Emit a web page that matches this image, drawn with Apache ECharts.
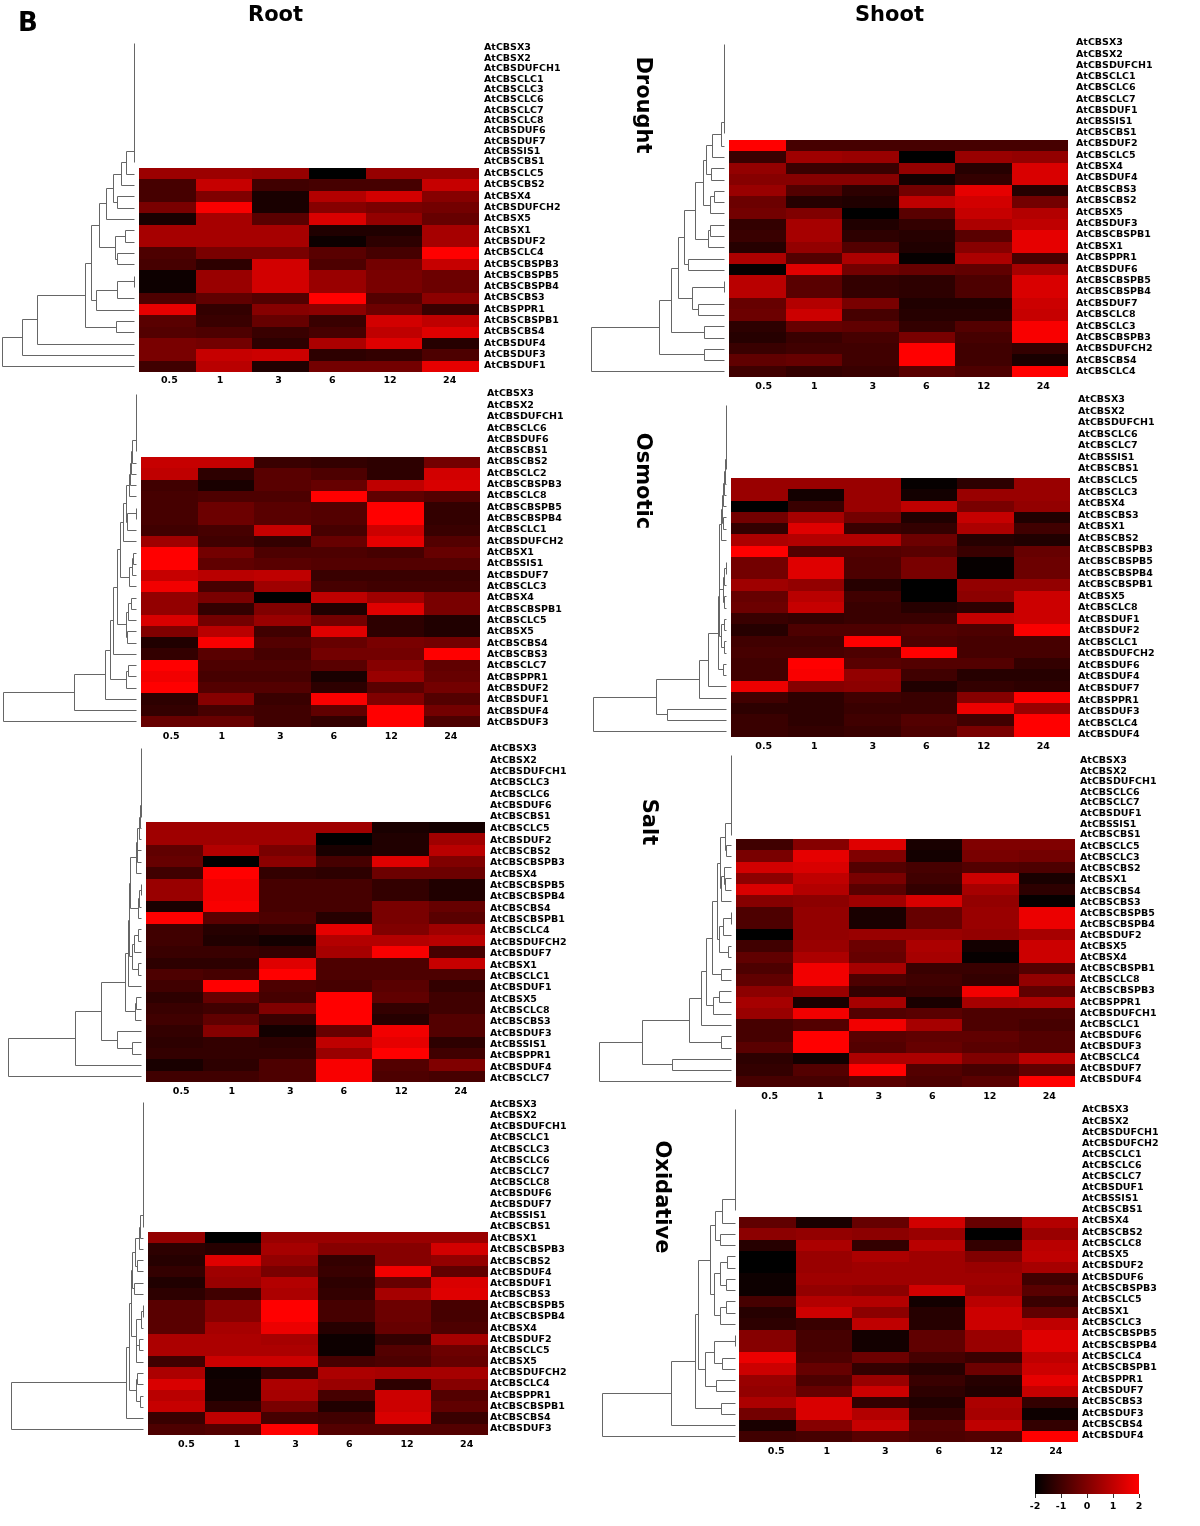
<!DOCTYPE html>
<html>
<head>
<meta charset="utf-8">
<title>AtCBS heatmaps</title>
<script src="https://cdn.jsdelivr.net/npm/echarts@6/dist/echarts.min.js"></script>
<style>
  html, body { margin: 0; padding: 0; background: #fff; }
  #chart { width: 1200px; height: 1526px; }
</style>
</head>
<body>
<div id="chart"></div>
<script>
const timepoints = ['0.5', '1', '3', '6', '12', '24']
const colorTicks = [-2, -1, 0, 1, 2]

// genes of each panel, top to bottom. the first ones have no expression row
const rootDroughtGenes = ['AtCBSX3', 'AtCBSX2', 'AtCBSDUFCH1', 'AtCBSCLC1', 'AtCBSCLC3', 'AtCBSCLC6', 'AtCBSCLC7', 'AtCBSCLC8', 'AtCBSDUF6', 'AtCBSDUF7', 'AtCBSSIS1', 'AtCBSCBS1', 'AtCBSCLC5', 'AtCBSCBS2', 'AtCBSX4', 'AtCBSDUFCH2', 'AtCBSX5', 'AtCBSX1', 'AtCBSDUF2', 'AtCBSCLC4', 'AtCBSCBSPB3', 'AtCBSCBSPB5', 'AtCBSCBSPB4', 'AtCBSCBS3', 'AtCBSPPR1', 'AtCBSCBSPB1', 'AtCBSCBS4', 'AtCBSDUF4', 'AtCBSDUF3', 'AtCBSDUF1']
const shootDroughtGenes = ['AtCBSX3', 'AtCBSX2', 'AtCBSDUFCH1', 'AtCBSCLC1', 'AtCBSCLC6', 'AtCBSCLC7', 'AtCBSDUF1', 'AtCBSSIS1', 'AtCBSCBS1', 'AtCBSDUF2', 'AtCBSCLC5', 'AtCBSX4', 'AtCBSDUF4', 'AtCBSCBS3', 'AtCBSCBS2', 'AtCBSX5', 'AtCBSDUF3', 'AtCBSCBSPB1', 'AtCBSX1', 'AtCBSPPR1', 'AtCBSDUF6', 'AtCBSCBSPB5', 'AtCBSCBSPB4', 'AtCBSDUF7', 'AtCBSCLC8', 'AtCBSCLC3', 'AtCBSCBSPB3', 'AtCBSDUFCH2', 'AtCBSCBS4', 'AtCBSCLC4']
const rootOsmoticGenes = ['AtCBSX3', 'AtCBSX2', 'AtCBSDUFCH1', 'AtCBSCLC6', 'AtCBSDUF6', 'AtCBSCBS1', 'AtCBSCBS2', 'AtCBSCLC2', 'AtCBSCBSPB3', 'AtCBSCLC8', 'AtCBSCBSPB5', 'AtCBSCBSPB4', 'AtCBSCLC1', 'AtCBSDUFCH2', 'AtCBSX1', 'AtCBSSIS1', 'AtCBSDUF7', 'AtCBSCLC3', 'AtCBSX4', 'AtCBSCBSPB1', 'AtCBSCLC5', 'AtCBSX5', 'AtCBSCBS4', 'AtCBSCBS3', 'AtCBSCLC7', 'AtCBSPPR1', 'AtCBSDUF2', 'AtCBSDUF1', 'AtCBSDUF4', 'AtCBSDUF3']
const shootOsmoticGenes = ['AtCBSX3', 'AtCBSX2', 'AtCBSDUFCH1', 'AtCBSCLC6', 'AtCBSCLC7', 'AtCBSSIS1', 'AtCBSCBS1', 'AtCBSCLC5', 'AtCBSCLC3', 'AtCBSX4', 'AtCBSCBS3', 'AtCBSX1', 'AtCBSCBS2', 'AtCBSCBSPB3', 'AtCBSCBSPB5', 'AtCBSCBSPB4', 'AtCBSCBSPB1', 'AtCBSX5', 'AtCBSCLC8', 'AtCBSDUF1', 'AtCBSDUF2', 'AtCBSCLC1', 'AtCBSDUFCH2', 'AtCBSDUF6', 'AtCBSDUF4', 'AtCBSDUF7', 'AtCBSPPR1', 'AtCBSDUF3', 'AtCBSCLC4', 'AtCBSDUF4']
const rootSaltGenes = ['AtCBSX3', 'AtCBSX2', 'AtCBSDUFCH1', 'AtCBSCLC3', 'AtCBSCLC6', 'AtCBSDUF6', 'AtCBSCBS1', 'AtCBSCLC5', 'AtCBSDUF2', 'AtCBSCBS2', 'AtCBSCBSPB3', 'AtCBSX4', 'AtCBSCBSPB5', 'AtCBSCBSPB4', 'AtCBSCBS4', 'AtCBSCBSPB1', 'AtCBSCLC4', 'AtCBSDUFCH2', 'AtCBSDUF7', 'AtCBSX1', 'AtCBSCLC1', 'AtCBSDUF1', 'AtCBSX5', 'AtCBSCLC8', 'AtCBSCBS3', 'AtCBSDUF3', 'AtCBSSIS1', 'AtCBSPPR1', 'AtCBSDUF4', 'AtCBSCLC7']
const shootSaltGenes = ['AtCBSX3', 'AtCBSX2', 'AtCBSDUFCH1', 'AtCBSCLC6', 'AtCBSCLC7', 'AtCBSDUF1', 'AtCBSSIS1', 'AtCBSCBS1', 'AtCBSCLC5', 'AtCBSCLC3', 'AtCBSCBS2', 'AtCBSX1', 'AtCBSCBS4', 'AtCBSCBS3', 'AtCBSCBSPB5', 'AtCBSCBSPB4', 'AtCBSDUF2', 'AtCBSX5', 'AtCBSX4', 'AtCBSCBSPB1', 'AtCBSCLC8', 'AtCBSCBSPB3', 'AtCBSPPR1', 'AtCBSDUFCH1', 'AtCBSCLC1', 'AtCBSDUF6', 'AtCBSDUF3', 'AtCBSCLC4', 'AtCBSDUF7', 'AtCBSDUF4']
const rootOxidativeGenes = ['AtCBSX3', 'AtCBSX2', 'AtCBSDUFCH1', 'AtCBSCLC1', 'AtCBSCLC3', 'AtCBSCLC6', 'AtCBSCLC7', 'AtCBSCLC8', 'AtCBSDUF6', 'AtCBSDUF7', 'AtCBSSIS1', 'AtCBSCBS1', 'AtCBSX1', 'AtCBSCBSPB3', 'AtCBSCBS2', 'AtCBSDUF4', 'AtCBSDUF1', 'AtCBSCBS3', 'AtCBSCBSPB5', 'AtCBSCBSPB4', 'AtCBSX4', 'AtCBSDUF2', 'AtCBSCLC5', 'AtCBSX5', 'AtCBSDUFCH2', 'AtCBSCLC4', 'AtCBSPPR1', 'AtCBSCBSPB1', 'AtCBSCBS4', 'AtCBSDUF3']
const shootOxidativeGenes = ['AtCBSX3', 'AtCBSX2', 'AtCBSDUFCH1', 'AtCBSDUFCH2', 'AtCBSCLC1', 'AtCBSCLC6', 'AtCBSCLC7', 'AtCBSDUF1', 'AtCBSSIS1', 'AtCBSCBS1', 'AtCBSX4', 'AtCBSCBS2', 'AtCBSCLC8', 'AtCBSX5', 'AtCBSDUF2', 'AtCBSDUF6', 'AtCBSCBSPB3', 'AtCBSCLC5', 'AtCBSX1', 'AtCBSCLC3', 'AtCBSCBSPB5', 'AtCBSCBSPB4', 'AtCBSCLC4', 'AtCBSCBSPB1', 'AtCBSPPR1', 'AtCBSDUF7', 'AtCBSCBS3', 'AtCBSDUF3', 'AtCBSCBS4', 'AtCBSDUF4']

// log2 values of the expression rows
const rootDroughtValues = [
  [0.45, 0.45, 0.35, -2, 0.35, 0.35],
  [-0.9, 1.1, -1, -0.9, -0.9, 1.1],
  [-0.9, 0, -1.6, 0.8, 1.3, 0.1],
  [-0.1, 1.9, -1.6, 0.1, -0.1, -0.2],
  [-1.6, 0.6, -0.6, 1.4, 0.3, -0.4],
  [0.6, 0.6, 0.6, -1.5, -1.5, 0.6],
  [0.6, 0.6, 0.6, -1.8, -1.3, 0.6],
  [-0.8, -0.1, -0.1, -0.6, -0.9, 2],
  [-0.9, -1.3, 1.3, -0.8, -0.2, 1.1],
  [-1.8, 0.4, 1.3, 0.4, -0.1, -0.3],
  [-1.8, 0.4, 1.3, 0.4, -0.1, -0.3],
  [-0.8, -0.5, -0.7, 2, -0.7, 0.2],
  [1.6, -1.2, 0.1, 0.2, -0.3, -1.1],
  [-0.6, -1.1, -0.4, -1.1, 1.3, 1],
  [-0.7, -0.8, -1.1, -0.9, 1, 1.5],
  [-0.1, -0.2, -1.3, 0.7, 1.5, -1.4],
  [-0.1, 1.1, 1.2, -1.3, -1.2, -0.8],
  [-1, 0.9, -1.5, -0.2, -0.2, 1.6]
]
const shootDroughtValues = [
  [2, -0.9, -0.9, -0.9, -0.9, -0.9],
  [-1.1, 0.5, 0.4, -2, 0.4, 0.3],
  [0.3, -1.1, -1.1, 0.3, -1.4, 1.4],
  [0.1, 0.1, 0.1, -1.7, -1.2, 1.4],
  [0.4, -0.7, -1.3, -0.2, 1.6, -1.4],
  [-0.3, -1.4, -1.5, 1, 1.3, -0.2],
  [-0.2, 0, -2, -0.6, 1.1, 0.8],
  [-1.2, 0.6, -1.5, -1.2, 0.7, 1],
  [-1.1, 0.6, -1.3, -1.4, -0.6, 1.6],
  [-1.4, 0.3, -0.7, -1.5, 0.1, 1.6],
  [0.7, -0.7, 0.7, -1.9, 0.7, -0.9],
  [-1.9, 1.5, -0.2, -0.4, -0.5, 0.6],
  [0.9, -0.6, -1.2, -1.3, -0.8, 1.4],
  [0.9, -0.6, -1.2, -1.3, -0.8, 1.4],
  [-0.4, 0.8, -0.1, -1.5, -1.5, 1.2],
  [-0.3, 1.2, -0.9, -1.4, -1.4, 1.1],
  [-1.3, -0.4, -0.5, -1.2, -0.7, 1.9],
  [-1.4, -1.1, -0.9, -0.1, -0.9, 1.9],
  [-1.1, -1, -1, 2, -1, -1.2],
  [-0.5, -0.4, -1, 2, -1, -1.6],
  [-1, -1.2, -1.1, -0.6, -0.8, 2]
]
const rootOsmoticValues = [
  [1.1, 1.1, -1.1, -1.2, -1.3, -0.2],
  [1, -1.3, -0.6, -0.8, -1.3, 1.3],
  [-1, -1.6, -0.6, -0.4, 1, 1.4],
  [-0.9, -0.8, -0.8, 2, -0.5, -0.7],
  [-0.9, -0.3, -0.6, -0.7, 2, -1.2],
  [-0.9, -0.3, -0.6, -0.7, 2, -1.2],
  [-1, -0.9, 1.1, -0.9, 1.2, -1.1],
  [0.5, -1, -1.2, -0.4, 1.6, -0.7],
  [2, -0.2, -0.8, -0.8, -0.9, -0.4],
  [2, -0.5, -0.6, -0.7, -0.7, -0.7],
  [1.1, 0.9, 1, -1.1, -1.1, -1.1],
  [1.8, -0.9, 0.5, -0.9, -1, -1],
  [0.3, -0.1, -2, 1, 0.5, -0.1],
  [0.3, -1.2, 0, -1.5, 1.5, -0.1],
  [1.4, -0.2, 0.4, -0.2, -1.3, -1.5],
  [0, 0.9, -1, 1.5, -1.3, -1.5],
  [-1.5, 1.9, -0.7, -0.4, -0.1, -0.2],
  [-1.2, -0.6, -0.9, -0.2, -0.2, 2],
  [2, -0.8, -0.8, -0.6, 0.1, -0.5],
  [1.8, -0.9, -0.9, -1.6, 0.4, -0.4],
  [2, -0.7, -0.7, -1.3, -0.6, -0.2],
  [-1.3, 0.1, -1.1, 1.9, 0, -0.7],
  [-1.2, -0.9, -1, -0.5, 2, -0.2],
  [-0.4, -0.4, -1, -1.2, 2, -0.8]
]
const shootOsmoticValues = [
  [0.4, 0.4, 0.4, -1.9, -1.3, 0.4],
  [0.4, -1.7, 0.4, -1.7, 0.4, 0.4],
  [-2, -1.1, 0.4, 1, -0.1, 0.3],
  [-0.2, 0.6, -0.2, -1.5, 1.1, -1.5],
  [-1.2, 1.5, -1.1, -1.2, 0.7, -1],
  [0.7, 0.8, 0.8, -0.3, -1.4, -1.5],
  [2, -0.7, -0.7, -0.6, -1.1, -0.4],
  [-0.2, 1.5, -0.8, -0.1, -1.9, -0.3],
  [-0.2, 1.5, -0.8, -0.1, -1.9, -0.3],
  [0.5, 0.3, -1.4, -2, 0.3, 0.3],
  [-0.4, 0.9, -1, -2, 0.2, 1.2],
  [-0.3, 1.1, -1.1, -1.4, -1.3, 1.2],
  [-1.1, -1.2, -1.1, -1.1, 1.1, 1.2],
  [-1.4, -0.8, -0.8, -0.7, -0.8, 1.9],
  [-1, -1, 2, -0.8, -0.9, -0.9],
  [-0.9, -0.9, -0.8, 2, -0.9, -0.9],
  [-1, 2, -0.6, -0.7, -0.7, -1.2],
  [-1, 1.9, 0.3, -1, -1.4, -1.4],
  [1.7, 0.1, 0.2, -1.5, -1.2, -1.3],
  [-1, -1.3, -1, -1.1, 0.1, 2],
  [-1.3, -1.3, -1.1, -1.1, 1.7, 0.4],
  [-1.1, -1.3, -1, -0.7, -1, 2],
  [-1.1, -1.2, -1.1, -0.8, -0.1, 2]
]
const rootSaltValues = [
  [0.5, 0.5, 0.5, 0.5, -1.6, -1.7],
  [0.5, 0.5, 0.5, -2, -1.5, 0.5],
  [-0.5, 0.8, -0.1, -1.6, -1.5, 0.9],
  [-0.4, -2, 0.2, -0.9, 1.5, 0],
  [-1, 2, -1.2, -1.3, -0.3, -0.3],
  [0.4, 1.8, -0.9, -0.9, -1.2, -1.5],
  [0.4, 1.8, -0.9, -0.9, -1.2, -1.5],
  [-1.6, 1.9, -0.9, -0.9, -0.1, -0.4],
  [2, -0.6, -0.8, -1.4, -0.1, -0.6],
  [-1, -1.4, -1.2, 1.6, 0, 0.5],
  [-1, -1.5, -1.7, 0.8, 0.8, 0.9],
  [-1.1, -1.1, -1.2, 0.6, 1.9, -0.9],
  [-1.3, -1.3, 1.5, -0.8, -0.8, 1.1],
  [-0.8, -0.9, 2, -0.8, -0.8, -0.8],
  [-1, 2, -0.8, -0.9, -0.6, -1.2],
  [-1.3, -0.4, -0.9, 2, -0.5, -1],
  [-1.1, -1, 0, 2, -1.2, -1],
  [-1, -0.5, -1.1, 2, -1.4, -0.7],
  [-1.2, 0.1, -1.7, -0.4, 1.8, -0.7],
  [-1.3, -1.2, -1.3, 1, 1.6, -1.3],
  [-1.2, -1.2, -1.2, 0.4, 2, -1],
  [-1.6, -1.3, -0.8, 1.9, -0.7, 0],
  [-1, -1, -0.8, 1.9, -0.8, -0.9]
]
const shootSaltValues = [
  [-1, 0.1, 1.5, -1.6, 0, 0],
  [-0.1, 1.6, 0, -1.7, -0.1, -0.2],
  [1.3, 1.4, -0.7, -0.9, -0.7, -0.8],
  [0.2, 1, -0.1, -1, 1.2, -1.6],
  [1.4, 0.8, -0.6, -1.2, 0.6, -1.3],
  [0.1, 0.2, 0.5, 1.4, 0.3, -1.9],
  [-0.8, 0.3, -1.6, -0.4, 0.4, 1.7],
  [-0.8, 0.3, -1.6, -0.4, 0.4, 1.7],
  [-2, 0.3, 0.4, 0.4, 0.3, 0.6],
  [-1, 0.4, -0.3, 0.7, -1.7, 1.2],
  [-0.5, 0.7, -0.4, 0.6, -1.9, 1.2],
  [-0.8, 1.8, 0.6, -1.1, -1.1, -0.7],
  [-0.5, 1.8, -0.8, -1, -1.2, 0.3],
  [0.2, 0.4, -1.2, -1.1, 1.8, -0.5],
  [0.6, -1.6, 0.6, -1.6, 0.6, 0.7],
  [0.4, 1.8, -0.7, -0.6, -0.8, -0.8],
  [-0.9, -0.7, 1.8, 0.6, -0.8, -0.9],
  [-0.9, 2, -0.6, -0.5, -0.5, -0.7],
  [-0.6, 2, -0.7, -0.4, -0.6, -0.7],
  [-1.3, -1.7, 0.7, 0.7, 0, 0.9],
  [-1.2, -0.7, 2, -0.7, -0.9, -0.5],
  [-0.9, -0.9, -0.6, -0.8, -0.6, 2]
]
const rootOxidativeValues = [
  [0.3, -2, 0.4, 0.4, 0.4, 0.4],
  [-1.3, -1.4, 0.6, 0.1, 0.1, 1.3],
  [-1.4, 1.5, 0.3, -1.2, 0.1, 0.3],
  [-1.2, 0.5, -0.1, -1.1, 1.8, -0.5],
  [-1.5, 0.4, 0.8, -1.3, -0.4, 1.4],
  [-1.3, -1, 0.7, -1.2, 0.6, 1.5],
  [-0.6, 0.1, 2, -0.9, -0.3, -0.9],
  [-0.6, 0.1, 2, -0.9, -0.3, -0.9],
  [-0.6, 0.6, 1.7, -1.4, -0.4, -0.8],
  [0.7, 0.7, 0.6, -1.8, -1.2, 0.6],
  [0.7, 0.7, 0.7, -1.8, -0.7, -0.3],
  [-1, 1.2, 1.2, -0.9, -0.8, -0.4],
  [0.7, -1.8, -1.2, 0.7, 0.6, 0.6],
  [1.4, -1.7, 0.7, 0.4, -1.3, 0.1],
  [0.9, -1.7, 0.6, -0.9, 1.2, -0.7],
  [1.1, -1.3, -0.1, -1.5, 1.2, -0.5],
  [-1.1, 1, -0.9, -1, 1.4, -1.1],
  [-0.8, -0.7, 2, -0.7, -0.7, -0.7]
]
const shootOxidativeValues = [
  [-0.5, -1.6, -0.4, 1.3, -0.4, 0.8],
  [0.2, 0.3, 0.2, 0.4, -2, 0.4],
  [-1.4, 0.7, -1.2, 0.9, -1.2, 0.9],
  [-2, 0.4, 0.7, 0.5, 0, 1],
  [-2, 0.4, 0.5, 0.5, 0.4, 0.6],
  [-1.8, 0.5, 0.5, 0.5, 0.5, -1],
  [-1.8, 0.3, 0.2, 1.3, 0.4, -0.6],
  [-0.9, 0.8, 0.8, -1.7, 0.9, -1.1],
  [-1.4, 1.2, 0.2, -1.4, 1.2, -0.5],
  [-1.3, -1.1, 1, -1.4, 1.2, 1],
  [0.1, -0.9, -1.7, -0.5, 0.4, 1.5],
  [0.1, -0.9, -1.7, -0.5, 0.4, 1.5],
  [1.7, -0.8, -0.3, -0.9, -1.1, 1],
  [1.2, -0.4, -1.2, -1.4, -0.3, 1.2],
  [0.4, -0.8, 0.4, -1.1, -1.4, 1.6],
  [0.3, -0.4, 1.2, -1.3, -1.5, 1.1],
  [0.7, 1.4, -1.2, -1.5, 0.7, -1.2],
  [-0.2, 1.4, 0.8, -1.2, 0.6, -1.8],
  [-1.6, 0.1, 1.1, -0.7, 1, -1.2],
  [-1, -0.9, -0.6, -0.8, -0.7, 2]
]

// the rows without data all hang together at distance 0
const flatRows = (n) => {
  let node = 0
  for (let i = 1; i < n; i++) node = [0, node, i]
  return node
}

// clusters: [distance, child, child], a number is a row of the gene list
const rootDroughtTree = [358, [305, [263, [134, [116, [96, [77, [56, [34, [23, flatRows(12), 12], 13], [47, 14, 15]], 16], [52, [25, 17, 18], [47, 19, 20]]], [102, [47, [1, 21, 22], 23], 24]], [50, 25, 26]], 27], 28], 29]
const shootDroughtTree = [352, [171, [141, [122, [107, [77, [56, [47, [31, [9, flatRows(9), 9], 10], [35, 11, 12]], [36, [27, 13, 14], 15]], [43, [37, 16, 17], 18]], [94, 19, 20]], [84, [1, 21, 22], [69, 23, 24]]], [53, 25, 26]], [54, 27, 28]], 29]
const rootOsmoticTree = [358, [166, [84, [71, [61, [51, [44, [34, [28, [19, [17, [14, [10, flatRows(6), 6], 7], 8], 9], [24, [1, 10, 11], 12]], 13], [18, [12, [9, 14, 15], 16], 17]], [26, [22, [13, 18, 19], 20], [24, 21, 22]]], 23], [28, [22, 24, 25], 26]], 27], 28], 29]
const shootOsmoticTree = [352, [184, [72, [47, [20, [19, [18, [13, [11, [7, [5, [2, flatRows(7), 7], 8], 9], [8, 10, 11]], 12], [9, [5, [1, 14, 15], 16], [5, 17, 18]]], [14, [5, 19, 20], [6, 21, 22]]], [8, 23, 24]], 25], 26], [156, 27, 28]], 29]
const rootSaltTree = [358, [178, [109, [42, [34, [33, [30, [14, [12, [5, [2, flatRows(7), 7], 8], [10, 9, 10]], 11], [9, [6, [1, 12, 13], 14], 15]], [24, [18, [8, 16, 17], 18], [9, 19, 20]]], 21], [15, [14, 22, 23], 24]], [64, 25, [23, 26, 27]]], 28], 29]
const shootSaltTree = [352, [238, [113, [79, [68, [51, [38, [30, [15, flatRows(8), [14, 8, 9]], [28, [18, 10, [16, 11, 12]], 13]], [31, [21, [1, 14, 15], 16], [8, 17, 18]]], [26, 19, 20]], [48, [33, 21, 22], 23]], 24], [26, 25, 26]], [158, 27, 28]], 29]
const rootOxidativeTree = [358, [47, [38, [33, [29, [22, [11, [7, flatRows(12), 12], 13], [17, 14, 15]], [24, 16, 17]], [20, [6, [1, 18, 19], 20], [18, [10, 21, 22], 23]]], [20, [16, 24, 25], [9, 26, 27]]], 28], 29]
const shootOxidativeTree = [354, [171, [107, [98, [67, [52, [34, flatRows(10), 10], [41, 11, 12]], [57, [41, [20, 13, 14], [25, 15, 16]], [40, [23, 17, 18], 19]]], [80, [56, [1, 20, 21], [35, 22, 23]], [51, 24, 25]]], [37, 26, 27]], 28], 29]

// where each panel sits on the page. gene names are not spaced like the rows,
// so they have their own first and last position: upper block and lower block
const panels = [
  { genes: rootDroughtGenes, values: rootDroughtValues, tree: rootDroughtTree, left: 139, right: 479, top: 168, bottom: 372, labelX: 484, upper: [48, 162], lower: [173.7, 365.7], treeLeft: 2, treeRight: 134, treeTop: 43, tickX: 0, tickMargin: 4 },
  { genes: shootDroughtGenes, values: shootDroughtValues, tree: shootDroughtTree, left: 729, right: 1068, top: 140, bottom: 377, labelX: 1076, upper: [43, 133], lower: [143.7, 371.7], treeLeft: 591, treeRight: 724, treeTop: 44, tickX: 4.5, tickMargin: 5 },
  { genes: rootOsmoticGenes, values: rootOsmoticValues, tree: rootOsmoticTree, left: 141, right: 480, top: 457, bottom: 727, labelX: 487, upper: [394, 451], lower: [461.7, 722.7], treeLeft: 3, treeRight: 136, treeTop: 394, tickX: 0, tickMargin: 5 },
  { genes: shootOsmoticGenes, values: shootOsmoticValues, tree: shootOsmoticTree, left: 731, right: 1070, top: 478, bottom: 737, labelX: 1078, upper: [400, 469], lower: [480.7, 734.7], treeLeft: 593, treeRight: 726, treeTop: 405, tickX: 2.5, tickMargin: 5 },
  { genes: rootSaltGenes, values: rootSaltValues, tree: rootSaltTree, left: 146, right: 485, top: 822, bottom: 1082, labelX: 490, upper: [748.7, 816.7], lower: [828.7, 1078.7], treeLeft: 8, treeRight: 141, treeTop: 748, tickX: 5, tickMargin: 5 },
  { genes: shootSaltGenes, values: shootSaltValues, tree: shootSaltTree, left: 736, right: 1075, top: 839, bottom: 1087, labelX: 1080, upper: [760.7, 834.7], lower: [846.7, 1079.7], treeLeft: 599, treeRight: 731, treeTop: 755, tickX: 3.5, tickMargin: 5 },
  { genes: rootOxidativeGenes, values: rootOxidativeValues, tree: rootOxidativeTree, left: 148, right: 488, top: 1232, bottom: 1435, labelX: 490, upper: [1104.7, 1226.7], lower: [1238.7, 1428.7], treeLeft: 11, treeRight: 143, treeTop: 1102, tickX: 8, tickMargin: 5 },
  { genes: shootOxidativeGenes, values: shootOxidativeValues, tree: shootOxidativeTree, left: 739, right: 1078, top: 1217, bottom: 1442, labelX: 1082, upper: [1110, 1209.7], lower: [1220.7, 1436], treeLeft: 602, treeRight: 735, treeTop: 1109, tickX: 7, tickMargin: 5 }
]

const font = 'DejaVu Sans'
// the tick labels of the source do not sit quite on the cell centres
const tickShift = [2, -4, -2, -5, -4, -1]

const treeSegments = (panel) => {
  const flat = panel.genes.length - panel.values.length
  const rowH = (panel.bottom - panel.top) / panel.values.length
  const leafY = (row) =>
    row < flat
      ? panel.treeTop + (row * (panel.upper[1] - panel.treeTop)) / (flat - 1)
      : panel.top + (row - flat + 0.5) * rowH
  const segments = []
  const walk = (node) => {
    if (typeof node === 'number') return { h: 0, y: leafY(node) }
    const a = walk(node[1])
    const b = walk(node[2])
    const h = node[0]
    segments.push([a.h, a.y, h, a.y], [b.h, b.y, h, b.y], [h, a.y, h, b.y])
    return { h, y: (a.y + b.y) / 2 }
  }
  walk(panel.tree)
  return segments
}

const renderSegment = (params, api) => {
  const p1 = api.coord([api.value(0), api.value(1)])
  const p2 = api.coord([api.value(2), api.value(3)])
  return {
    type: 'line',
    shape: {
      x1: Math.round(p1[0]) + 0.5,
      y1: Math.round(p1[1]) + 0.5,
      x2: Math.round(p2[0]) + 0.5,
      y2: Math.round(p2[1]) + 0.5
    },
    style: { stroke: '#666', lineWidth: 1 }
  }
}

// cell edges go on whole pixels, neighbours then touch without a seam
const renderCell = (params, api) => {
  const c = api.coord([api.value(0), api.value(1)])
  const size = api.size([1, 1])
  const x0 = Math.round(c[0] - size[0] / 2)
  const x1 = Math.round(c[0] + size[0] / 2)
  const y0 = Math.round(c[1] - size[1] / 2)
  const y1 = Math.round(c[1] + size[1] / 2)
  return {
    type: 'rect',
    shape: { x: x0, y: y0, width: x1 - x0, height: y1 - y0 },
    style: { fill: api.visual('color') }
  }
}

const renderBar = (params, api) => {
  const p0 = api.coord([api.value(0), 1])
  const p1 = api.coord([api.value(1), 0])
  return {
    type: 'rect',
    shape: { x: p0[0], y: p0[1], width: p1[0] - p0[0], height: p1[1] - p0[1] },
    style: {
      fill: new echarts.graphic.LinearGradient(0, 0, 1, 0, [
        { offset: 0, color: '#000000' },
        { offset: 1, color: '#ff0000' }
      ])
    }
  }
}

const grid = []
const xAxis = []
const yAxis = []
const series = []
const heatmapIndexes = []

const labelStyle = {
  fontFamily: font,
  fontWeight: 'bold',
  fontSize: 9.5,
  color: '#000'
}

// a strip of gene names on the right side of the heatmap
const addGeneLabels = (panel, names, span) => {
  const step = (span[1] - span[0]) / (names.length - 1)
  const index = grid.length
  grid.push({
    left: panel.left,
    top: span[0] - step / 2,
    width: panel.right - panel.left,
    height: step * names.length
  })
  xAxis.push({ type: 'category', gridIndex: index, show: false, data: timepoints })
  yAxis.push({
    type: 'category',
    gridIndex: index,
    position: 'right',
    inverse: true,
    data: names,
    axisLine: { show: false },
    axisTick: { show: false },
    splitLine: { show: false },
    axisLabel: { ...labelStyle, interval: 0, margin: panel.labelX - panel.right, align: 'left' }
  })
}

panels.forEach((panel) => {
  const flat = panel.genes.length - panel.values.length
  const width = panel.right - panel.left
  const rowNames = panel.genes.slice(flat)

  let index = grid.length
  grid.push({ left: panel.left, top: panel.top, width, height: panel.bottom - panel.top })
  xAxis.push({
    type: 'category',
    gridIndex: index,
    data: timepoints.map((t, i) => {
      const shift = tickShift[i] + panel.tickX
      return {
        value: t,
        textStyle: { padding: shift > 0 ? [0, 0, 0, shift * 2] : [0, -shift * 2, 0, 0] }
      }
    }),
    axisLine: { show: false },
    axisTick: { show: false },
    splitLine: { show: false },
    axisLabel: { ...labelStyle, interval: 0, margin: panel.tickMargin }
  })
  yAxis.push({
    type: 'category',
    gridIndex: index,
    inverse: true,
    data: rowNames.map((name, i) => i),
    axisLabel: { show: false },
    axisLine: { show: false },
    axisTick: { show: false },
    splitLine: { show: false }
  })
  const cells = []
  panel.values.forEach((row, y) => {
    row.forEach((v, x) => cells.push([x, y, v]))
  })
  heatmapIndexes.push(series.length)
  series.push({
    type: 'custom',
    xAxisIndex: index,
    yAxisIndex: index,
    data: cells,
    encode: { x: 0, y: 1 },
    renderItem: renderCell,
    silent: true
  })

  addGeneLabels(panel, panel.genes.slice(0, flat), panel.upper)
  addGeneLabels(panel, rowNames, panel.lower)

  // dendrogram, x is cluster distance and y is page height
  index = grid.length
  grid.push({
    left: panel.treeLeft,
    top: panel.treeTop,
    width: panel.treeRight - panel.treeLeft,
    height: panel.bottom - panel.treeTop
  })
  xAxis.push({
    type: 'value',
    gridIndex: index,
    show: false,
    inverse: true,
    min: 0,
    max: panel.tree[0]
  })
  yAxis.push({
    type: 'value',
    gridIndex: index,
    show: false,
    inverse: true,
    min: panel.treeTop,
    max: panel.bottom
  })
  series.push({
    type: 'custom',
    xAxisIndex: index,
    yAxisIndex: index,
    data: treeSegments(panel),
    encode: { x: [0, 2], y: [1, 3] },
    renderItem: renderSegment,
    silent: true
  })
})

// colour bar with its scale
const barIndex = grid.length
grid.push({ left: 1035, top: 1474, width: 104, height: 20 })
xAxis.push({
  type: 'value',
  gridIndex: barIndex,
  min: -2,
  max: 2,
  interval: 1,
  axisLine: { show: false },
  axisTick: { show: true, length: 4, lineStyle: { color: '#333' } },
  splitLine: { show: false },
  axisLabel: {
    ...labelStyle,
    margin: 8,
    customValues: colorTicks,
    formatter: (v) => String(v)
  }
})
yAxis.push({ type: 'value', gridIndex: barIndex, show: false, min: 0, max: 1 })
series.push({
  type: 'custom',
  xAxisIndex: barIndex,
  yAxisIndex: barIndex,
  data: [[colorTicks[0], colorTicks[colorTicks.length - 1]]],
  encode: { x: [0, 1] },
  renderItem: renderBar,
  silent: true
})

const titleStyle = { fontFamily: font, fontWeight: 'bold', fontSize: 21, color: '#000' }

const sideLabel = (text, x, y) => ({
  type: 'text',
  x,
  y,
  rotation: -Math.PI / 2,
  style: { font: `bold 21px "${font}"`, text, textAlign: 'center', textVerticalAlign: 'middle', fill: '#000' }
})

const chart = echarts.init(document.getElementById('chart'))
chart.setOption({
  animation: false,
  backgroundColor: '#fff',
  title: [
    { text: 'B', left: 18, top: 11, padding: 0, textStyle: { ...titleStyle, fontSize: 26 } },
    { text: 'Root', left: 248, top: 5, padding: 0, textStyle: titleStyle },
    { text: 'Shoot', left: 855, top: 5, padding: 0, textStyle: titleStyle }
  ],
  grid,
  xAxis,
  yAxis,
  visualMap: {
    type: 'continuous',
    show: false,
    seriesIndex: heatmapIndexes,
    dimension: 2,
    min: -2,
    max: 2,
    inRange: { color: ['#000000', '#ff0000'] }
  },
  series,
  graphic: [
    sideLabel('Drought', 642, 105),
    sideLabel('Osmotic', 642, 481),
    sideLabel('Salt', 648, 822),
    sideLabel('Oxidative', 661, 1197)
  ]
})
</script>
</body>
</html>
